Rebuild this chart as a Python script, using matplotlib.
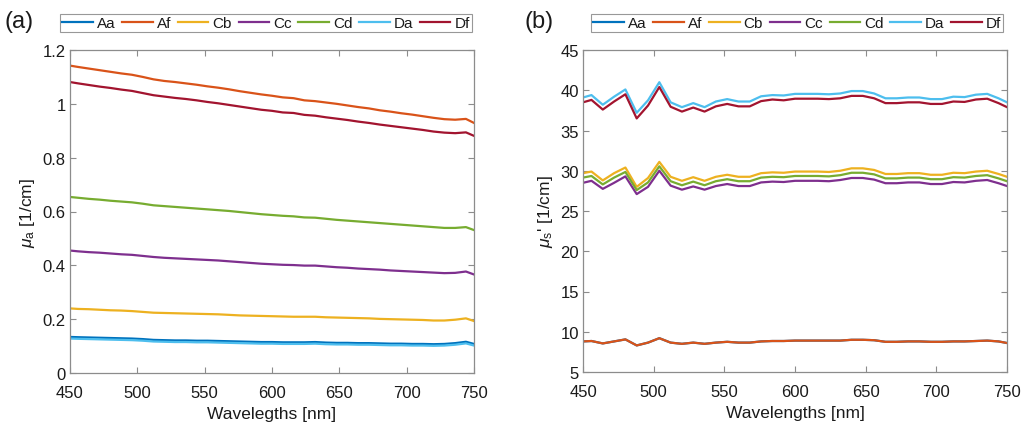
import matplotlib
matplotlib.use("Agg")
import matplotlib.pyplot as plt
from matplotlib.ticker import FuncFormatter

plt.rcParams['font.family'] = ['Liberation Sans', 'DejaVu Sans']
plt.rcParams['mathtext.fontset'] = 'custom'
plt.rcParams['mathtext.it'] = 'Liberation Sans:italic'
plt.rcParams['mathtext.rm'] = 'Liberation Sans'

wavelengths = [450, 456, 464, 472, 480, 488, 496, 504, 512, 520, 528, 536, 544, 552, 560, 568,
               576, 584, 592, 600, 608, 616, 624, 632, 640, 648, 656, 664, 672, 680, 688, 696,
               704, 712, 720, 728, 736, 744, 750]
series = ["Aa", "Af", "Cb", "Cc", "Cd", "Da", "Df"]
colors = ["#0072BD", "#D95319", "#EDB120", "#7E2F8E", "#77AC30", "#4DBEEE", "#A2142F"]

# Panel (a): absorption coefficient mu_a [1/cm]
Aa_a = [0.134, 0.133, 0.132, 0.131, 0.130, 0.129, 0.128, 0.126, 0.123, 0.122, 0.121, 0.121, 0.120, 0.120, 0.119, 0.118,
        0.117, 0.116, 0.115, 0.115, 0.114, 0.114, 0.114, 0.115, 0.113, 0.112, 0.112, 0.111, 0.111, 0.110, 0.109, 0.109,
        0.108, 0.108, 0.107, 0.108, 0.111, 0.116, 0.108]
Af_a = [1.142, 1.137, 1.131, 1.125, 1.119, 1.113, 1.108, 1.100, 1.091, 1.085, 1.081, 1.076, 1.071, 1.065, 1.060, 1.054,
        1.047, 1.041, 1.035, 1.030, 1.024, 1.021, 1.013, 1.010, 1.005, 1.000, 0.994, 0.988, 0.983, 0.976, 0.971, 0.965,
        0.960, 0.954, 0.948, 0.943, 0.941, 0.944, 0.929]
Cb_a = [0.240, 0.238, 0.237, 0.235, 0.233, 0.232, 0.230, 0.227, 0.224, 0.223, 0.222, 0.221, 0.220, 0.219, 0.218, 0.216,
        0.214, 0.213, 0.212, 0.211, 0.210, 0.209, 0.209, 0.209, 0.207, 0.206, 0.205, 0.204, 0.203, 0.201, 0.200, 0.199,
        0.198, 0.197, 0.195, 0.195, 0.198, 0.203, 0.193]
Cc_a = [0.455, 0.452, 0.449, 0.447, 0.444, 0.441, 0.439, 0.435, 0.431, 0.428, 0.426, 0.424, 0.422, 0.420, 0.418, 0.415,
        0.412, 0.409, 0.406, 0.404, 0.402, 0.401, 0.399, 0.399, 0.396, 0.393, 0.391, 0.388, 0.386, 0.384, 0.381, 0.379,
        0.377, 0.375, 0.373, 0.371, 0.372, 0.377, 0.366]
Cd_a = [0.654, 0.651, 0.647, 0.644, 0.640, 0.637, 0.634, 0.629, 0.623, 0.620, 0.617, 0.614, 0.611, 0.608, 0.605, 0.602,
        0.598, 0.594, 0.590, 0.587, 0.584, 0.582, 0.578, 0.577, 0.573, 0.569, 0.566, 0.563, 0.560, 0.557, 0.554, 0.551,
        0.548, 0.545, 0.542, 0.539, 0.539, 0.542, 0.531]
Da_a = [0.128, 0.127, 0.126, 0.125, 0.124, 0.123, 0.122, 0.120, 0.117, 0.116, 0.115, 0.115, 0.114, 0.114, 0.113, 0.112,
        0.111, 0.110, 0.109, 0.109, 0.108, 0.108, 0.108, 0.109, 0.107, 0.106, 0.106, 0.105, 0.105, 0.104, 0.103, 0.103,
        0.102, 0.102, 0.101, 0.102, 0.105, 0.110, 0.102]
Df_a = [1.081, 1.076, 1.070, 1.064, 1.059, 1.053, 1.048, 1.040, 1.032, 1.027, 1.022, 1.018, 1.013, 1.007, 1.002, 0.996,
        0.990, 0.984, 0.978, 0.974, 0.968, 0.966, 0.959, 0.956, 0.950, 0.945, 0.940, 0.934, 0.929, 0.923, 0.918, 0.913,
        0.908, 0.903, 0.897, 0.893, 0.891, 0.894, 0.881]

# Panel (b): reduced scattering coefficient mu_s' [1/cm]
Af_s = [8.8, 8.85, 8.55, 8.8, 9.05, 8.3, 8.65, 9.2, 8.65, 8.5, 8.65, 8.5, 8.65, 8.75, 8.65, 8.65,
        8.8, 8.85, 8.85, 8.9, 8.9, 8.9, 8.9, 8.9, 9.0, 9.0, 8.95, 8.75, 8.75, 8.8, 8.8, 8.75,
        8.75, 8.8, 8.8, 8.85, 8.9, 8.8, 8.6]
Aa_s = [8.8, 8.85, 8.55, 8.8, 9.05, 8.3, 8.65, 9.2, 8.65, 8.5, 8.65, 8.5, 8.65, 8.75, 8.65, 8.65,
        8.8, 8.85, 8.85, 8.9, 8.9, 8.9, 8.9, 8.9, 9.0, 9.0, 8.95, 8.75, 8.75, 8.8, 8.8, 8.75,
        8.75, 8.8, 8.8, 8.85, 8.9, 8.8, 8.6]
Cb_s = [29.7, 29.9, 28.8, 29.7, 30.4, 28.0, 29.1, 31.1, 29.25, 28.75, 29.2, 28.75, 29.25, 29.5, 29.25, 29.25,
        29.7, 29.8, 29.75, 29.9, 29.9, 29.9, 29.85, 30.0, 30.3, 30.3, 30.1, 29.6, 29.6, 29.7, 29.7, 29.5,
        29.5, 29.75, 29.7, 29.9, 30.0, 29.6, 29.25]
Cd_s = [29.15, 29.35, 28.3, 29.15, 29.85, 27.6, 28.55, 30.55, 28.7, 28.2, 28.65, 28.2, 28.7, 28.95, 28.7, 28.7,
        29.15, 29.25, 29.2, 29.35, 29.35, 29.35, 29.3, 29.45, 29.75, 29.75, 29.55, 29.05, 29.05, 29.15, 29.15, 28.95,
        28.95, 29.2, 29.15, 29.35, 29.45, 29.05, 28.7]
Cc_s = [28.5, 28.75, 27.75, 28.5, 29.3, 27.1, 28.0, 30.0, 28.15, 27.65, 28.05, 27.65, 28.1, 28.35, 28.1, 28.1,
        28.55, 28.65, 28.6, 28.75, 28.75, 28.75, 28.7, 28.85, 29.1, 29.1, 28.9, 28.45, 28.45, 28.55, 28.55, 28.35,
        28.35, 28.6, 28.55, 28.75, 28.85, 28.45, 28.1]
Da_s = [39.1, 39.4, 38.2, 39.2, 40.1, 37.2, 38.75, 41.0, 38.5, 37.9, 38.4, 37.9, 38.6, 38.9, 38.6, 38.6,
        39.25, 39.4, 39.35, 39.55, 39.55, 39.55, 39.5, 39.6, 39.9, 39.9, 39.6, 39.0, 39.0, 39.1, 39.1, 38.9,
        38.9, 39.2, 39.15, 39.45, 39.55, 39.0, 38.5]
Df_s = [38.5, 38.8, 37.6, 38.6, 39.5, 36.5, 38.1, 40.4, 37.95, 37.35, 37.85, 37.35, 38.0, 38.3, 38.0, 38.0,
        38.65, 38.85, 38.75, 38.95, 38.95, 38.95, 38.9, 39.0, 39.3, 39.3, 39.0, 38.4, 38.4, 38.5, 38.5, 38.3,
        38.3, 38.6, 38.55, 38.85, 38.95, 38.4, 37.9]

data_a = [Aa_a, Af_a, Cb_a, Cc_a, Cd_a, Da_a, Df_a]
data_s = [Aa_s, Af_s, Cb_s, Cc_s, Cd_s, Da_s, Df_s]

W, H = 1023, 427
fig = plt.figure(figsize=(W / 100, H / 100), dpi=100)
ax1 = fig.add_axes([70 / W, 1 - 374 / H, 404 / W, 323 / H])
ax2 = fig.add_axes([583 / W, 1 - 373 / H, 424 / W, 322 / H])

spine_col = "#8c8c8c"
txt_col = "#1a1a1a"
for ax, data, ylim, yticks, ylabel, xlabel, legx in [
    (ax1, data_a, (0, 1.2), [0, 0.2, 0.4, 0.6, 0.8, 1.0, 1.2], r"$\mu_{\mathrm{a}}$ [1/cm]", "Wavelegths [nm]", 0.485),
    (ax2, data_s, (5, 45), [5, 10, 15, 20, 25, 30, 35, 40, 45], r"$\mu_{\mathrm{s}}$' [1/cm]", "Wavelengths [nm]", 0.505),
]:
    for name, col, vals in zip(series, colors, data):
        ax.plot(wavelengths, vals, color=col, lw=1.6, label=name)
    ax.set_xlim(450, 750)
    ax.set_ylim(*ylim)
    ax.set_xticks([450, 500, 550, 600, 650, 700, 750])
    ax.set_yticks(yticks)
    ax.yaxis.set_major_formatter(FuncFormatter(lambda v, p: f"{v:g}"))
    ax.tick_params(direction="in", top=True, right=True, length=4, width=0.8,
                   color=spine_col, labelsize=12, labelcolor=txt_col)
    ax.tick_params(axis="x", pad=9)
    ax.tick_params(axis="y", pad=3)
    for s in ax.spines.values():
        s.set_color(spine_col)
        s.set_linewidth(0.9)
    ax.set_xlabel(xlabel, fontsize=12.5, color=txt_col, labelpad=4)
    ax.set_ylabel(ylabel, fontsize=12.5, color=txt_col, labelpad=4)
    leg = ax.legend(ncol=7, loc="lower center", bbox_to_anchor=(legx, 1.055),
                    frameon=True, fancybox=False, fontsize=11,
                    handlelength=2.0, handletextpad=0.25, columnspacing=0.45,
                    borderpad=0.15, borderaxespad=0.0)
    leg.get_frame().set_edgecolor("#7f7f7f")
    leg.get_frame().set_linewidth(0.8)
    for t in leg.get_texts():
        t.set_color(txt_col)

fig.text(5 / W, 1 - 22 / H, "(a)", fontsize=17, va="center", ha="left", color=txt_col)
fig.text(524 / W, 1 - 22 / H, "(b)", fontsize=17, va="center", ha="left", color=txt_col)

fig.savefig("out.png", dpi=100)
